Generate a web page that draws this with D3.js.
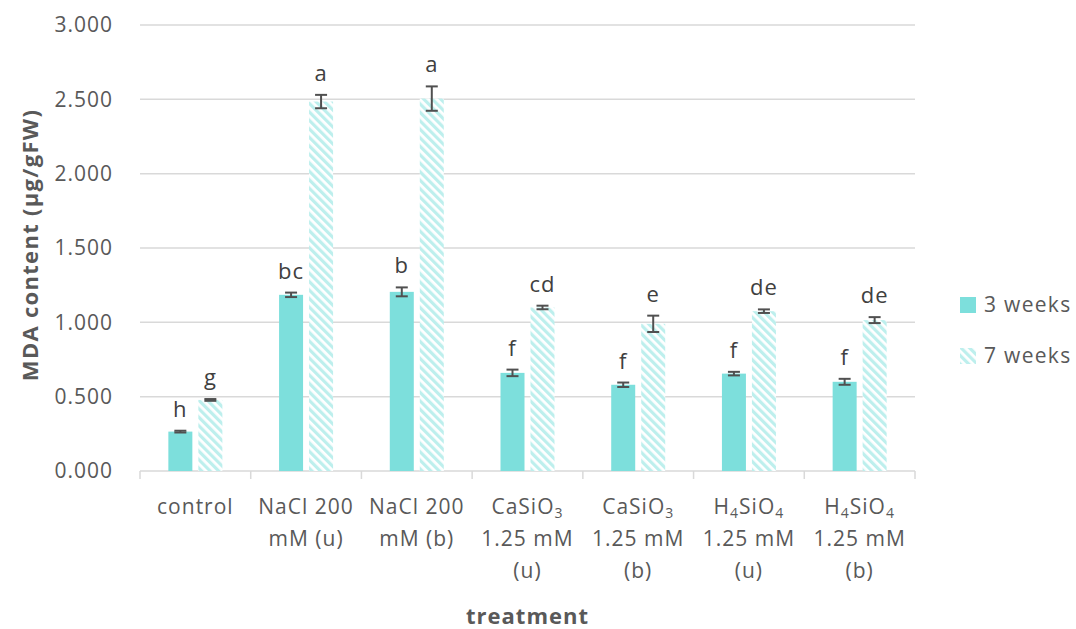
<!DOCTYPE html>
<html>
<head>
<meta charset="utf-8">
<script src="https://cdn.jsdelivr.net/npm/d3@7"></script>
<style>
  body { margin: 0; background: #fff; }
  svg text { font-family: "Open Sans", "Noto Sans", sans-serif; fill: #595959; }
</style>
</head>
<body>
<div id="chart"></div>
<script>
// categories (lines of each x label; "_" marks a subscript run)
const categories = ['control', 'NaCl 200 mM (u)', 'NaCl 200 mM (b)', 'CaSiO3 1.25 mM (u)', 'CaSiO3 1.25 mM (b)', 'H4SiO4 1.25 mM (u)', 'H4SiO4 1.25 mM (b)'];
const categoryLines = [
  [['control']],
  [['NaCl 200'], ['mM (u)']],
  [['NaCl 200'], ['mM (b)']],
  [['CaSiO', '_3'], ['1.25 mM'], ['(u)']],
  [['CaSiO', '_3'], ['1.25 mM'], ['(b)']],
  [['H', '_4', 'SiO', '_4'], ['1.25 mM'], ['(u)']],
  [['H', '_4', 'SiO', '_4'], ['1.25 mM'], ['(b)']]
];
const series = ['3 weeks', '7 weeks'];
const week3 = [0.265, 1.185, 1.205, 0.660, 0.580, 0.655, 0.600];
const week3Err = [0.006, 0.015, 0.030, 0.022, 0.015, 0.012, 0.020];
const week3Letters = ['h', 'bc', 'b', 'f', 'f', 'f', 'f'];
const week7 = [0.478, 2.485, 2.505, 1.100, 0.990, 1.075, 1.015];
const week7Err = [0.006, 0.045, 0.082, 0.012, 0.055, 0.012, 0.020];
const week7Letters = ['g', 'a', 'a', 'cd', 'e', 'de', 'de'];
const yTicks = [0, 0.5, 1, 1.5, 2, 2.5, 3];

const width = 1076, height = 629;
const margin = { left: 140, right: 161, top: 25, bottom: 158 };
const color3 = '#7ddfdc';
const color7 = '#bdefed';

const svg = d3.select('#chart').append('svg')
  .attr('width', width).attr('height', height);

// hatch pattern for 7 weeks (stripes running top-left to bottom-right)
const defs = svg.append('defs');
const pat = defs.append('pattern')
  .attr('id', 'hatch')
  .attr('patternUnits', 'userSpaceOnUse')
  .attr('width', 6).attr('height', 6)
  .attr('patternTransform', 'rotate(-45)');
pat.append('rect').attr('width', 6).attr('height', 6).attr('fill', '#fff');
pat.append('rect').attr('width', 3.2).attr('height', 6).attr('fill', color7);

const x = d3.scaleBand()
  .domain(categories)
  .range([margin.left, width - margin.right]);
const y = d3.scaleLinear()
  .domain([0, 3])
  .range([height - margin.bottom, margin.top]);

const barW = 24, gap = 6;

// gridlines
svg.append('g').selectAll('line')
  .data(yTicks.slice(1))
  .join('line')
  .attr('x1', margin.left).attr('x2', width - margin.right)
  .attr('y1', d => y(d)).attr('y2', d => y(d))
  .attr('stroke', '#d9d9d9').attr('stroke-width', 1.5);

// y tick labels
svg.append('g').selectAll('text')
  .data(yTicks)
  .join('text')
  .attr('x', 113).attr('y', d => y(d))
  .attr('dy', '0.35em')
  .attr('text-anchor', 'end')
  .attr('font-size', 21)
  .attr('letter-spacing', 1)
  .text(d => d3.format('.3f')(d));

// x axis line and ticks
const xAxis = svg.append('g');
xAxis.append('line')
  .attr('x1', margin.left).attr('x2', width - margin.right)
  .attr('y1', y(0)).attr('y2', y(0))
  .attr('stroke', '#d9d9d9').attr('stroke-width', 1.5);
xAxis.selectAll('.tk')
  .data(categories.map(c => x(c)).concat([x(categories[categories.length - 1]) + x.bandwidth()]))
  .join('line')
  .attr('class', 'tk')
  .attr('x1', d => d).attr('x2', d => d)
  .attr('y1', y(0)).attr('y2', y(0) + 8)
  .attr('stroke', '#d9d9d9').attr('stroke-width', 1.5);

// bars
const bars = [
  { vals: week3, err: week3Err, letters: week3Letters, fill: color3, off: -(barW + gap / 2) },
  { vals: week7, err: week7Err, letters: week7Letters, fill: 'url(#hatch)', off: gap / 2 }
];
bars.forEach(s => {
  const g = svg.append('g');
  const cx = (c) => x(c) + x.bandwidth() / 2 + s.off;
  g.selectAll('rect')
    .data(categories)
    .join('rect')
    .attr('x', c => cx(c))
    .attr('y', (c, i) => y(s.vals[i]))
    .attr('width', barW)
    .attr('height', (c, i) => y(0) - y(s.vals[i]))
    .attr('fill', s.fill);

  // error bars
  const eb = g.selectAll('g.err')
    .data(categories)
    .join('g').attr('class', 'err')
    .attr('stroke', '#505050').attr('stroke-width', 2);
  eb.append('line')
    .attr('x1', c => cx(c) + barW / 2).attr('x2', c => cx(c) + barW / 2)
    .attr('y1', (c, i) => y(s.vals[i] - s.err[i])).attr('y2', (c, i) => y(s.vals[i] + s.err[i]));
  [1, -1].forEach(sign => {
    eb.append('line')
      .attr('x1', c => cx(c) + barW / 2 - 6).attr('x2', c => cx(c) + barW / 2 + 6)
      .attr('y1', (c, i) => y(s.vals[i] + sign * s.err[i]))
      .attr('y2', (c, i) => y(s.vals[i] + sign * s.err[i]));
  });

  // significance letters
  g.selectAll('text')
    .data(categories)
    .join('text')
    .attr('x', c => cx(c) + barW / 2)
    .attr('y', (c, i) => y(s.vals[i] + s.err[i]) - 14)
    .attr('text-anchor', 'middle')
    .attr('font-size', 22)
    .attr('letter-spacing', 1)
    .style('fill', '#404040')
    .text((c, i) => s.letters[i]);
});

// category labels
const catG = svg.append('g');
categories.forEach((c, i) => {
  categoryLines[i].forEach((line, li) => {
    const t = catG.append('text')
      .attr('x', x(c) + x.bandwidth() / 2)
      .attr('y', 514 + li * 32)
      .attr('text-anchor', 'middle')
      .attr('font-size', 21)
      .attr('letter-spacing', 1);
    line.forEach((part, pi) => {
      if (part.startsWith('_')) {
        t.append('tspan').text(part.slice(1))
          .attr('font-size', 14).attr('dy', 4);
      } else {
        const ts = t.append('tspan').text(part);
        // return to baseline after a subscript
        const prev = line[pi - 1];
        if (prev && prev.startsWith('_')) ts.attr('dy', -4);
      }
    });
  });
});

// axis titles
svg.append('text')
  .attr('transform', `translate(38,${y(1.5) - 3}) rotate(-90)`)
  .attr('text-anchor', 'middle')
  .attr('font-size', 22)
  .attr('font-weight', 'bold')
  .attr('letter-spacing', 1.3)
  .text('MDA content (µg/gFW)');
svg.append('text')
  .attr('x', x(categories[3]) + x.bandwidth() / 2)
  .attr('y', 624)
  .attr('text-anchor', 'middle')
  .attr('font-size', 22)
  .attr('font-weight', 'bold')
  .attr('letter-spacing', 1)
  .text('treatment');

// legend
const leg = svg.append('g');
series.forEach((s, i) => {
  const ly = 305 + i * 51;
  leg.append('rect')
    .attr('x', 960).attr('y', ly - 8)
    .attr('width', 16).attr('height', 16)
    .attr('fill', i === 0 ? color3 : 'url(#hatch)');
  leg.append('text')
    .attr('x', 984).attr('y', ly)
    .attr('dy', '0.35em')
    .attr('font-size', 21)
    .attr('letter-spacing', 1.3)
    .text(s);
});
</script>
</body>
</html>
